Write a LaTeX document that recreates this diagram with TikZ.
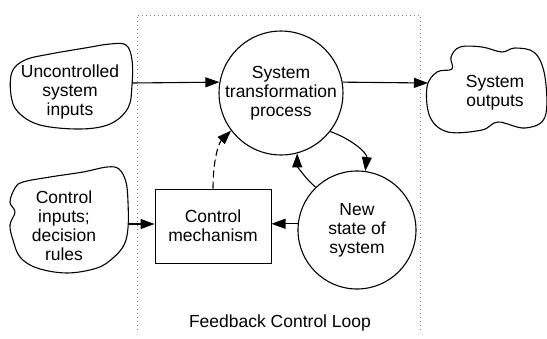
\documentclass[tikz,border=0pt]{standalone}
\usepackage{fontspec}
\setmainfont{Liberation Sans}
\usetikzlibrary{arrows.meta}

\begin{document}
\begin{tikzpicture}[x=1pt,y=-1pt,
	every node/.style={font=\fontsize{17.5}{19}\selectfont, align=center, inner sep=0pt},
	proc/.style={circle, draw, line width=1.1pt, minimum size=118pt},
	blob/.style={draw, line width=1.1pt},
	arr/.style={line width=1.1pt, -{Triangle[length=14pt,width=10pt]}},
	frame/.style={gray, line width=1pt, dash pattern=on 1pt off 3pt}]
		
		\useasboundingbox (0,0) rectangle (547,338);
		
		% Frames
		
		\draw[frame] (137,330) -- (137,15) -- (420,15) -- (420,330);
		\node (loop) at (280,323) {Feedback Control Loop};
		
		% Nodes
		
		\node[proc] 
		(stp) at (281,93) {System\\transformation\\process};
		
		\node[proc] 
		(ns) at (357,230) {New\\state of\\system};
		
		\node[draw, line width=1pt, minimum width=116pt, minimum height=74pt] 
		(box) at (213,226) {Control\\mechanism};
		
		\node (unc) at (70,92) {Uncontrolled\\system\\inputs};
		
		\node (ci) at (64,226) {Control\\inputs;\\decision\\rules};
		
		\node (so) at (495,93) {System\\outputs};
		
		% Clouds
		
		\draw[blob] plot[smooth cycle, tension=0.6] coordinates {(12,72) (11,95) (18,112) (40,125) (80,129) (110,124) (128,108) (132,85) (132,60) (126,45) (110,44) (85,48) (50,54) (25,60)};
		\coordinate (unc-e) at (132,83);
		
		\draw[blob] plot[smooth cycle, tension=0.6] coordinates {(23,182) (50,177) (83,172) (107,167) (119,169) (126,182) (128,202) (128,228) (124,245) (113,258) (97,268) (67,273) (37,268) (20,257) (13,240) (10,225) (15,212) (10,202) (15,188)};
		\coordinate (ci-e) at (128,224);
		
		\draw[blob] plot[smooth cycle, tension=0.6] coordinates {(437,72) (452,69) (451,57) (460,47) (482,47) (502,52) (515,48) (535,53) (545,77) (545,117) (525,128) (498,122) (482,130) (448,132) (430,117) (427,87)};
		\coordinate (so-w) at (428,83);
		
		% Edges...
		
		\draw[arr] (unc-e) -- (stp.170);
		\draw[arr] (stp.10) -- (so-w);
		\draw[arr] (ci-e) -- (ci-e -| box.west);
		\draw[arr] (ns.174) -- (ns.174 -| box.east);
		
		\draw[arr] (stp.-38) .. controls +(22,8) and +(2,-18) .. (ns.82);
		\draw[arr] (ns.134) .. controls +(-10,-8) and +(0,12) .. (stp.-75);
		\draw[arr, dash pattern=on 7pt off 4pt] (box.north) .. controls +(0,-30) and +(-12,12) .. (stp.217);
		
	\end{tikzpicture}
\end{document}
